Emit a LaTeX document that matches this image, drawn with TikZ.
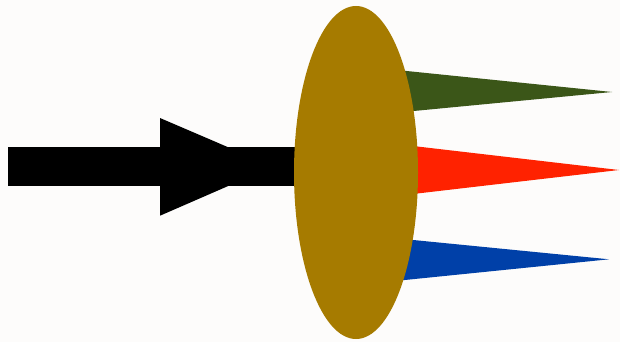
\documentclass[tikz,border=0pt]{standalone}
\begin{document}
\begin{tikzpicture}[x=1pt,y=-1pt]
\definecolor{bg}{HTML}{FDFCFB}
\definecolor{lensbrown}{HTML}{A67B00}
\definecolor{raygreen}{HTML}{3B5618}
\definecolor{rayred}{HTML}{FF2200}
\definecolor{rayblue}{HTML}{0040A8}
\fill[bg] (0,0) rectangle (620,342);
\useasboundingbox (0,0) rectangle (620,342);
% incoming arrow
\fill[black] (8,147) rectangle (300,186);
\fill[black] (160,118) -- (273,166.5) -- (160,215.7) -- cycle;
% outgoing rays
\fill[raygreen] (395,69.8) -- (612,92) -- (395,112.8) -- cycle;
\fill[rayred] (395,143.9) -- (619,170) -- (395,196.1) -- cycle;
\fill[rayblue] (395,238.2) -- (609,259.3) -- (395,281) -- cycle;
% lens
\fill[lensbrown] (356,172.5) ellipse [x radius=62, y radius=166.5];
\end{tikzpicture}
\end{document}
